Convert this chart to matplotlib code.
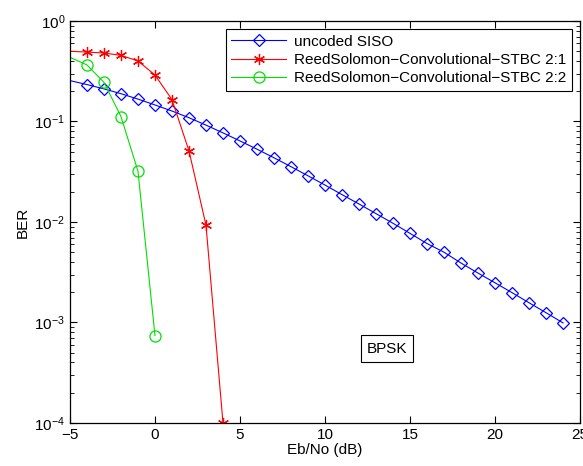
import matplotlib.pyplot as plt
from matplotlib.ticker import LogLocator, FixedLocator, NullFormatter

plt.rcParams['font.family'] = ['Liberation Sans', 'DejaVu Sans']
plt.rcParams['mathtext.fontset'] = 'custom'
plt.rcParams['mathtext.rm'] = 'Liberation Sans'
plt.rcParams['axes.unicode_minus'] = True

# Eb/No grid (dB)
snr_uncoded = list(range(-5, 25))
snr_rs22 = [-5, -4, -3, -2, -1, 0]
snr_rs21 = [-5, -4, -3, -2, -1, 0, 1, 2, 3, 4]

# BER values
ber_uncoded = [0.255, 0.233, 0.211, 0.189, 0.167, 0.146, 0.127, 0.109, 0.092,
               0.077, 0.064, 0.053, 0.0435, 0.0355, 0.0288, 0.0233, 0.0187,
               0.0151, 0.0121, 0.0097, 0.0077, 0.0061, 0.0050, 0.0039,
               0.0031, 0.00248, 0.00198, 0.00157, 0.00125, 0.00099]
ber_rs21 = [0.50, 0.49, 0.48, 0.455, 0.40, 0.29, 0.165, 0.051, 0.0093, 0.0001]
ber_rs22 = [0.435, 0.365, 0.245, 0.112, 0.032, 0.00074]

labels = ['uncoded SISO',
          'ReedSolomon\u2212Convolutional\u2212STBC 2:1',
          'ReedSolomon\u2212Convolutional\u2212STBC 2:2']

fig = plt.figure(figsize=(5.83, 4.66), dpi=100)
ax = fig.add_axes([0.120, 0.0923, 0.875, 0.8627])

ax.semilogy(snr_uncoded, ber_uncoded, color='blue', lw=0.8, marker='D',
            ms=6.5, mfc='none', mew=0.9, markevery=slice(1, None), label=labels[0])
ax.semilogy(snr_rs21, ber_rs21, color='red', lw=0.8, marker=(6, 2, 0),
            ms=8, mew=0.9, markevery=slice(1, None), label=labels[1])
ax.semilogy(snr_rs22, ber_rs22, color='#00e000', lw=0.8, marker='o',
            ms=8, mfc='none', mew=0.9, markevery=slice(1, None), label=labels[2])

ax.set_xlim(-5, 25)
ax.set_ylim(1e-4, 1)
ax.xaxis.set_major_locator(FixedLocator([-5, 0, 5, 10, 15, 20, 25]))
ax.yaxis.set_major_locator(LogLocator(base=10, numticks=10))
ax.yaxis.set_minor_locator(LogLocator(base=10, subs=range(2, 10), numticks=10))
ax.yaxis.set_minor_formatter(NullFormatter())
ax.tick_params(which='both', direction='in', top=True, right=True, labelsize=11)
ax.tick_params(which='major', length=5)
ax.tick_params(which='minor', length=3)
for s in ax.spines.values():
    s.set_linewidth(0.9)

ax.set_xlabel('Eb/No (dB)', fontsize=11, labelpad=1)
ax.set_ylabel('BER', fontsize=11, labelpad=3)

leg = ax.legend(loc='upper right', fontsize=11, fancybox=False, framealpha=1,
                edgecolor='black', handlelength=3.6, handletextpad=0.5,
                borderaxespad=0.55, borderpad=0.35, labelspacing=0.28)
leg.get_frame().set_linewidth(0.8)

ax.text(13.65, 5.5e-4, 'BPSK', fontsize=11, ha='center', va='center',
        bbox=dict(boxstyle='square,pad=0.4', fc='white', ec='black', lw=0.8))

fig.savefig('out.png', dpi=100)
